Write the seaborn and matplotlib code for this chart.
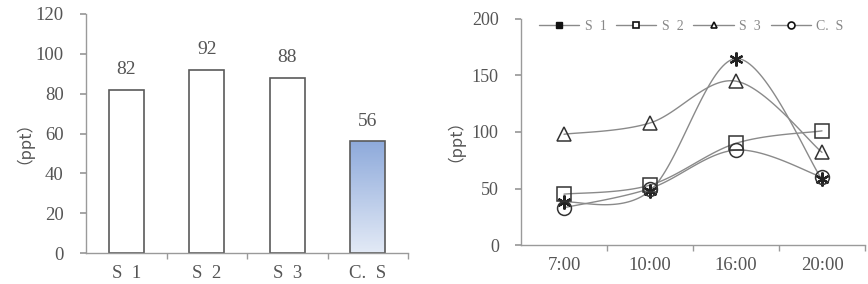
import numpy as np
import pandas as pd
import matplotlib
matplotlib.use("Agg")
import matplotlib.pyplot as plt
from matplotlib.lines import Line2D
from matplotlib.colors import LinearSegmentedColormap
import seaborn as sns

# ---- data ----
bar_categories = ["S  1", "S  2", "S  3", "C.  S"]
bar_values = [82, 92, 88, 56]

times = ["7:00", "10:00", "16:00", "20:00"]
s1_values = [38, 48, 165, 58]
s2_values = [45, 53, 90, 101]
s3_values = [98, 108, 145, 82]
cs_values = [33, 50, 84, 60]
series_names = ["S  1", "S  2", "S  3", "C.  S"]

sns.set_theme(style="white")
plt.rcParams["font.family"] = ["Liberation Serif", "Noto Sans CJK SC", "DejaVu Sans"]

TXT = "#555555"
AX = "#9a9a9a"

fig = plt.figure(figsize=(8.68, 2.84), dpi=100)
ax1 = fig.add_axes([86/868, 1-253/284, (408-86)/868, (253-14)/284])
ax2 = fig.add_axes([521/868, 1-245/284, (865-521)/868, (245-19)/284])

# ---- left bar chart ----
df_bar = pd.DataFrame({"cat": bar_categories, "val": bar_values})
sns.barplot(data=df_bar, x="cat", y="val", ax=ax1, color="white", width=0.43,
            edgecolor="#5a5a5a", linewidth=1.2, saturation=1)
p = ax1.patches[3]
x0, y0 = p.get_x(), p.get_y()
w, h = p.get_width(), p.get_height()
grad = np.linspace(0, 1, 256).reshape(-1, 1)
cmap = LinearSegmentedColormap.from_list("g", ["#e3eaf6", "#8eaadb"])
im = ax1.imshow(grad, extent=[x0, x0 + w, y0, y0 + h], origin="lower",
                cmap=cmap, aspect="auto", zorder=p.get_zorder() - 0.1)
im.set_clip_path(p)
p.set_facecolor("none")
ax1.set_xlim(-0.5, 3.5)
ax1.set_ylim(0, 120)
ax1.set_yticks(np.arange(0, 121, 20))
for i, v in enumerate(bar_values):
    ax1.text(i, v + 6, str(v), ha="center", va="bottom", fontsize=14, color=TXT)

# ---- right line chart ----
markers = [(6, 2, 0), "s", "^", "o"]
all_vals = [s1_values, s2_values, s3_values, cs_values]
xs = np.arange(len(times))

def catmull(x, y, n=40):
    x = np.asarray(x, float); y = np.asarray(y, float)
    P = np.column_stack([x, y])
    P = np.vstack([P[0], P, P[-1]])
    out = []
    for i in range(1, len(P) - 2):
        p0, p1, p2, p3 = P[i-1], P[i], P[i+1], P[i+2]
        c1 = p1 + (p2 - p0) / 6
        c2 = p2 - (p3 - p1) / 6
        t = np.linspace(0, 1, n)[:, None]
        seg = ((1-t)**3)*p1 + 3*((1-t)**2)*t*c1 + 3*(1-t)*t**2*c2 + t**3*p2
        out.append(seg if i == 1 else seg[1:])
    return np.vstack(out)

for name, vals, m in zip(series_names, all_vals, markers):
    curve = catmull(xs, vals)
    dfc = pd.DataFrame({"x": curve[:, 0], "y": curve[:, 1]})
    sns.lineplot(data=dfc, x="x", y="y", ax=ax2, color="#8a8a8a", linewidth=1.0,
                 sort=False, estimator=None)
    if m == (6, 2, 0):
        ax2.plot(xs, vals, linestyle="none", marker=m, markersize=10,
                 markeredgecolor="#222222", markeredgewidth=1.6, zorder=3)
    else:
        ax2.plot(xs, vals, linestyle="none", marker=m, markersize=10,
                 markerfacecolor="none", markeredgecolor="#333333",
                 markeredgewidth=1.1, zorder=3)

ax2.set_xlim(-0.5, 3.5)
ax2.set_ylim(0, 200)
ax2.set_yticks(np.arange(0, 201, 50))
ax2.set_xticks(xs)
ax2.set_xticklabels(times)

handles = []
for name, m in zip(series_names, markers):
    if m == (6, 2, 0):
        h_ = Line2D([], [], color="#8a8a8a", lw=1.0, marker="s", markersize=4,
                    markerfacecolor="#111111", markeredgecolor="#111111")
    else:
        h_ = Line2D([], [], color="#8a8a8a", lw=1.0, marker=m, markersize=5,
                    markerfacecolor="white", markeredgecolor="#111111", markeredgewidth=1.2)
    handles.append(h_)
leg = ax2.legend(handles, series_names, ncol=4, loc="upper center",
                 bbox_to_anchor=(0.495, 1.05), frameon=False, fontsize=10,
                 handlelength=2.9, columnspacing=0.7, handletextpad=0.4,
                 labelcolor="#888888")

for ax, lx, fs in ((ax1, -0.19, 13.5), (ax2, -0.19, 13)):
    for s in ("top", "right"):
        ax.spines[s].set_visible(False)
    for s in ("left", "bottom"):
        ax.spines[s].set_color(AX)
        ax.spines[s].set_linewidth(1.0)
    ax.set_xlabel("")
    ax.set_ylabel("（ppt）", color=TXT, fontsize=12,
                  family=["Noto Sans CJK SC", "DejaVu Sans"])
    ax.yaxis.set_label_coords(lx, 0.5)
    ax.tick_params(axis="y", which="major", direction="out", length=4, color=AX,
                   labelsize=fs, labelcolor=TXT, left=True, pad=12)
    ax.tick_params(axis="x", which="major", length=0, labelsize=13.5,
                   labelcolor=TXT, pad=9)
    ax.set_xticks([0.5, 1.5, 2.5, 3.5], minor=True)
    ax.tick_params(axis="x", which="minor", direction="out", length=4, color=AX,
                   bottom=True)

fig.savefig("out.png", dpi=100)
